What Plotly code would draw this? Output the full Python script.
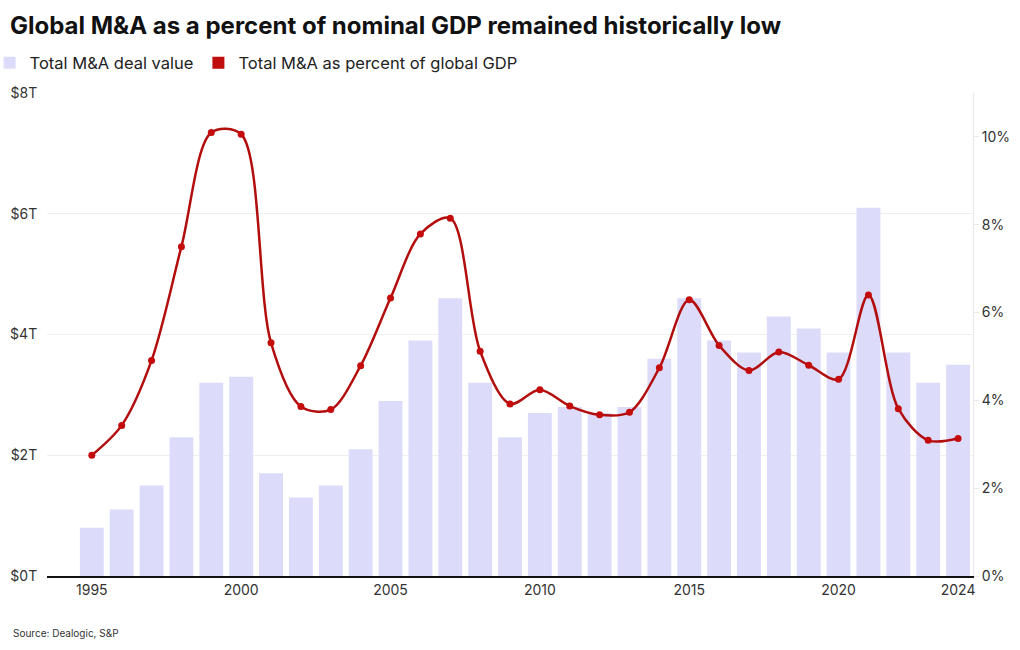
import plotly.graph_objects as go

# Global M&A deal value (trillions USD) and M&A as % of global GDP
years = list(range(1995, 2025))
deal_value = [0.8, 1.1, 1.5, 2.3, 3.2, 3.3, 1.7, 1.3, 1.5, 2.1,
              2.9, 3.9, 4.6, 3.2, 2.3, 2.7, 2.8, 2.7, 2.8, 3.6,
              4.6, 3.9, 3.7, 4.3, 4.1, 3.7, 6.1, 3.7, 3.2, 3.5]
pct_gdp = [2.75, 3.43, 4.91, 7.5, 10.1, 10.06, 5.31, 3.86, 3.79, 4.79,
           6.33, 7.79, 8.15, 5.12, 3.92, 4.24, 3.87, 3.67, 3.73, 4.74,
           6.29, 5.25, 4.68, 5.10, 4.8, 4.48, 6.40, 3.81, 3.09, 3.13]

left_ticks = [0, 2, 4, 6, 8]
left_labels = ["$0T", "$2T", "$4T", "$6T", "$8T"]
right_ticks = [0, 2, 4, 6, 8, 10]
right_labels = ["0%", "2%", "4%", "6%", "8%", "10%"]
x_ticks = [1995, 2000, 2005, 2010, 2015, 2020, 2024]

FONT = "Inter, Roboto, sans-serif"
RED = "#b30e0e"

fig = go.Figure()

fig.add_trace(go.Bar(
    x=years, y=deal_value,
    name="Total M&A deal value",
    marker=dict(color="#dcdcfa", line=dict(width=0)),
    width=0.8,
))

fig.add_trace(go.Scatter(
    x=years, y=pct_gdp,
    name="Total M&A as percent of global GDP",
    mode="lines+markers",
    line=dict(color=RED, width=2.5, shape="spline", smoothing=0.9),
    marker=dict(color="#c40c0c", size=7),
    yaxis="y2",
    showlegend=False,
))

# square legend swatch for the line series
fig.add_trace(go.Scatter(
    x=[None], y=[None],
    name="Total M&A as percent of global GDP",
    mode="markers",
    marker=dict(color="#c00d0d", size=12, symbol="square"),
    yaxis="y2",
))

fig.update_layout(
    width=1020, height=650,
    paper_bgcolor="white", plot_bgcolor="white",
    margin=dict(l=47, r=47, t=93, b=74, autoexpand=False),
    font=dict(family=FONT, color="#222", size=14),
    title=dict(
        text="<b>Global M&A as a percent of nominal GDP remained historically low</b>",
        x=0.0098, xanchor="left", y=0.96, yanchor="middle",
        font=dict(size=24, color="#111"),
    ),
    legend=dict(
        orientation="h", x=-0.062, xanchor="left", y=1.062, yanchor="middle",
        font=dict(size=16.5, color="#222"),
        itemwidth=30, traceorder="normal",
    ),
    xaxis=dict(
        range=[1993.5, 2024.5],
        tickvals=x_ticks,
        showgrid=False,
        showline=True, linecolor="#111", linewidth=1.5,
        ticks="", tickfont=dict(size=14, color="#333"),
        zeroline=False, automargin=False,
    ),
    yaxis=dict(
        range=[0, 8],
        tickvals=left_ticks, ticktext=left_labels,
        showgrid=True, gridcolor="#efefef", gridwidth=1,
        zeroline=False, showline=False,
        ticks="outside", ticklen=6, tickcolor="rgba(0,0,0,0)",
        tickfont=dict(size=14, color="#333"), automargin=False,
    ),
    yaxis2=dict(
        range=[0, 11],
        overlaying="y", side="right",
        tickvals=right_ticks, ticktext=right_labels,
        showgrid=False, zeroline=False,
        showline=True, linecolor="#e8e8e8", linewidth=1,
        ticks="outside", ticklen=5, tickcolor="#e8e8e8",
        tickfont=dict(size=14, color="#333"), automargin=False,
    ),
)

fig.add_annotation(
    text="Source: Dealogic, S&P",
    xref="paper", yref="paper", x=-0.039, y=-0.118,
    xanchor="left", yanchor="middle", showarrow=False,
    font=dict(size=10, color="#333"),
)

fig.write_html("out.html", config={"displayModeBar": False},
               post_script="document.body.style.margin='0px';")
